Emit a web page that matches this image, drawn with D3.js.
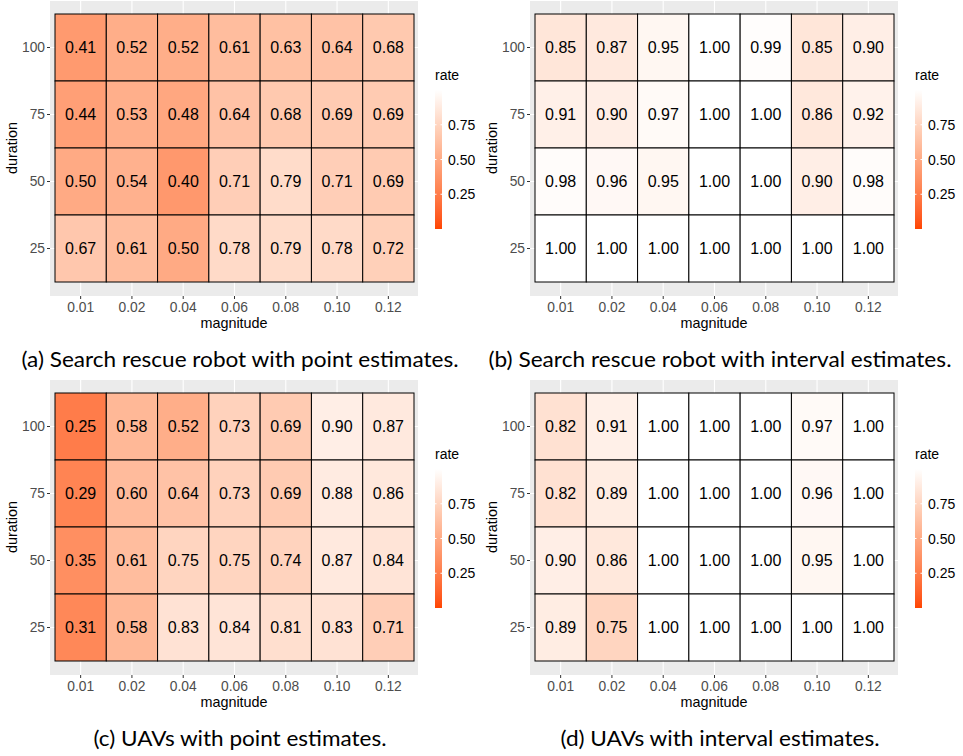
<!DOCTYPE html>
<html>
<head>
<meta charset="utf-8">
<script src="https://cdn.jsdelivr.net/npm/d3@7"></script>
<style>
  html, body { margin: 0; padding: 0; background: #fff; }
  svg { display: block; }
</style>
</head>
<body>
<svg id="chart" width="963" height="756"></svg>
<script>
// Axis categories
const magnitudes = ["0.01", "0.02", "0.04", "0.06", "0.08", "0.10", "0.12"];
const durations = ["100", "75", "50", "25"];

// Success rates, one row per duration (100, 75, 50, 25), one column per magnitude
const ratesSearchPoint = [
  [0.41, 0.52, 0.52, 0.61, 0.63, 0.64, 0.68],
  [0.44, 0.53, 0.48, 0.64, 0.68, 0.69, 0.69],
  [0.50, 0.54, 0.40, 0.71, 0.79, 0.71, 0.69],
  [0.67, 0.61, 0.50, 0.78, 0.79, 0.78, 0.72]
];
const ratesSearchInterval = [
  [0.85, 0.87, 0.95, 1.00, 0.99, 0.85, 0.90],
  [0.91, 0.90, 0.97, 1.00, 1.00, 0.86, 0.92],
  [0.98, 0.96, 0.95, 1.00, 1.00, 0.90, 0.98],
  [1.00, 1.00, 1.00, 1.00, 1.00, 1.00, 1.00]
];
const ratesUavPoint = [
  [0.25, 0.58, 0.52, 0.73, 0.69, 0.90, 0.87],
  [0.29, 0.60, 0.64, 0.73, 0.69, 0.88, 0.86],
  [0.35, 0.61, 0.75, 0.75, 0.74, 0.87, 0.84],
  [0.31, 0.58, 0.83, 0.84, 0.81, 0.83, 0.71]
];
const ratesUavInterval = [
  [0.82, 0.91, 1.00, 1.00, 1.00, 0.97, 1.00],
  [0.82, 0.89, 1.00, 1.00, 1.00, 0.96, 1.00],
  [0.90, 0.86, 1.00, 1.00, 1.00, 0.95, 1.00],
  [0.89, 0.75, 1.00, 1.00, 1.00, 1.00, 1.00]
];

const captions = [
  "(a) Search rescue robot with point estimates.",
  "(b) Search rescue robot with interval estimates.",
  "(c) UAVs with point estimates.",
  "(d) UAVs with interval estimates."
];
const legendTicks = [0.25, 0.50, 0.75];

const panels = [
  { rates: ratesSearchPoint,    caption: captions[0], ox: 0,   oy: 0,   capW: 437 },
  { rates: ratesSearchInterval, caption: captions[1], ox: 480, oy: 0,   capW: 463 },
  { rates: ratesUavPoint,       caption: captions[2], ox: 0,   oy: 379, capW: 293 },
  { rates: ratesUavInterval,    caption: captions[3], ox: 480, oy: 379, capW: 319 }
];

const fill = d3.scaleLinear()
  .domain([0, 1])
  .range(["#FF4500", "#FFFFFF"])
  .interpolate(d3.interpolateLab);

const sans = "'Liberation Sans', Arial, Helvetica, sans-serif";
const svg = d3.select("#chart");

const bg = { x0: 50, x1: 418, y0: 1, y1: 296 };
const x = d3.scaleBand().domain(magnitudes).range([55, 414]).padding(0);
const y = d3.scaleBand().domain(durations).range([14, 282]).padding(0);
const legendY = d3.scaleLinear().domain([0, 1]).range([229, 90]);

panels.forEach(p => {
  const g = svg.append("g").attr("transform", `translate(${p.ox},${p.oy})`);

  // panel background
  g.append("rect")
    .attr("x", bg.x0).attr("y", bg.y0)
    .attr("width", bg.x1 - bg.x0).attr("height", bg.y1 - bg.y0)
    .attr("fill", "#EBEBEB");

  // major grid lines
  g.append("g").selectAll("line").data(magnitudes).join("line")
    .attr("x1", d => x(d) + x.bandwidth() / 2).attr("x2", d => x(d) + x.bandwidth() / 2)
    .attr("y1", bg.y0).attr("y2", bg.y1)
    .attr("stroke", "#fff").attr("stroke-width", 1.1);
  g.append("g").selectAll("line").data(durations).join("line")
    .attr("y1", d => y(d) + y.bandwidth() / 2).attr("y2", d => y(d) + y.bandwidth() / 2)
    .attr("x1", bg.x0).attr("x2", bg.x1)
    .attr("stroke", "#fff").attr("stroke-width", 1.1);

  // tiles
  const cells = [];
  p.rates.forEach((row, i) => row.forEach((v, j) => cells.push({ d: durations[i], m: magnitudes[j], v })));

  g.append("g").selectAll("rect").data(cells).join("rect")
    .attr("x", d => x(d.m)).attr("y", d => y(d.d))
    .attr("width", x.bandwidth()).attr("height", y.bandwidth())
    .attr("fill", d => fill(d.v))
    .attr("stroke", "#000").attr("stroke-width", 1);

  g.append("g").selectAll("text").data(cells).join("text")
    .attr("x", d => x(d.m) + x.bandwidth() / 2)
    .attr("y", d => y(d.d) + y.bandwidth() / 2)
    .attr("dy", "0.36em")
    .attr("text-anchor", "middle")
    .attr("font-family", sans).attr("font-size", 16)
    .attr("fill", "#000")
    .text(d => d.v.toFixed(2));

  // axes
  const xAxis = d3.axisBottom(x).tickSize(3).tickPadding(3);
  const xg = g.append("g").attr("transform", `translate(0,${bg.y1})`).call(xAxis);
  const yAxis = d3.axisLeft(y).tickSize(3).tickPadding(2);
  const yg = g.append("g").attr("transform", `translate(${bg.x0},0)`).call(yAxis);
  [xg, yg].forEach(ax => {
    ax.select(".domain").remove();
    ax.selectAll(".tick line").attr("stroke", "#333").attr("stroke-width", 1);
    ax.selectAll(".tick text")
      .attr("font-family", sans).attr("font-size", 13.8).attr("fill", "#4D4D4D");
  });

  g.append("text")
    .attr("x", (bg.x0 + bg.x1) / 2).attr("y", 328)
    .attr("text-anchor", "middle")
    .attr("font-family", sans).attr("font-size", 14.4).attr("fill", "#000")
    .text("magnitude");
  g.append("text")
    .attr("transform", `translate(17,${(y.range()[0] + y.range()[1]) / 2}) rotate(-90)`)
    .attr("text-anchor", "middle")
    .attr("font-family", sans).attr("font-size", 14.4).attr("fill", "#000")
    .text("duration");

  // colour bar legend
  g.append("text")
    .attr("x", 435).attr("y", 80)
    .attr("font-family", sans).attr("font-size", 14).attr("fill", "#000")
    .text("rate");

  const gradId = "grad" + p.ox + "_" + p.oy;
  const grad = g.append("defs").append("linearGradient")
    .attr("id", gradId).attr("x1", 0).attr("x2", 0).attr("y1", 1).attr("y2", 0);
  d3.range(0, 1.0001, 0.05).forEach(t => {
    grad.append("stop").attr("offset", t).attr("stop-color", fill(t));
  });
  g.append("rect")
    .attr("x", 435).attr("y", legendY(1))
    .attr("width", 7).attr("height", legendY(0) - legendY(1))
    .attr("fill", `url(#${gradId})`);

  const lt = g.append("g").selectAll("g").data(legendTicks).join("g");
  lt.append("line")
    .attr("x1", 435).attr("x2", 436.5)
    .attr("y1", d => legendY(d)).attr("y2", d => legendY(d))
    .attr("stroke", "#fff").attr("stroke-width", 1);
  lt.append("line")
    .attr("x1", 440.5).attr("x2", 442)
    .attr("y1", d => legendY(d)).attr("y2", d => legendY(d))
    .attr("stroke", "#fff").attr("stroke-width", 1);
  lt.append("text")
    .attr("x", 448).attr("y", d => legendY(d)).attr("dy", "0.36em")
    .attr("font-family", sans).attr("font-size", 14).attr("fill", "#000")
    .text(d => d.toFixed(2));

  // caption
  g.append("text")
    .attr("x", 240).attr("y", 367)
    .attr("text-anchor", "middle")
    .attr("font-family", "Lato, 'Open Sans', sans-serif").attr("font-size", 20.5)
    .attr("fill", "#000")
    .attr("textLength", p.capW).attr("lengthAdjust", "spacingAndGlyphs")
    .text(p.caption);
});
</script>
</body>
</html>
